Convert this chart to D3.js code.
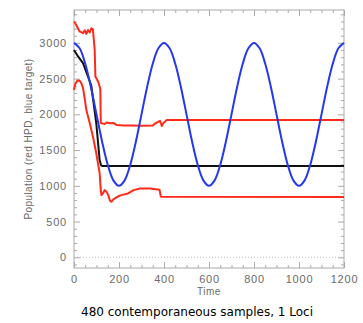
<!DOCTYPE html>
<html>
<head>
<meta charset="utf-8">
<script src="https://cdn.jsdelivr.net/npm/d3@7"></script>
<style>
    body { margin: 0; background: #fff; }
    svg { display: block; }
    .tick text { fill: #6a6a6a; font-family: "Liberation Sans", Arial, sans-serif; font-size: 11px; letter-spacing: 0.8px; }
    .tick line { stroke: #aaa; }
</style>
</head>
<body>
<svg id="chart" width="363" height="323"></svg>
<script>
// ticks
const timeTicks = [0, 200, 400, 600, 800, 1000, 1200];
const popTicks = [0, 500, 1000, 1500, 2000, 2500, 3000];

// blue target (sampled every 25 time units)
const targetTime = [0, 25, 50, 75, 100, 125, 150, 175, 200, 225, 250, 275, 300, 325, 350, 375,
    400, 425, 450, 475, 500, 525, 550, 575, 600, 625, 650, 675, 700, 725, 750, 775,
    800, 825, 850, 875, 900, 925, 950, 975, 1000, 1025, 1050, 1075, 1100, 1125, 1150, 1175, 1200];
const targetPop = [3000, 2924, 2707, 2383, 2000, 1617, 1293, 1076, 1000, 1076, 1293, 1617, 2000, 2383, 2707, 2924,
    3000, 2924, 2707, 2383, 2000, 1617, 1293, 1076, 1000, 1076, 1293, 1617, 2000, 2383, 2707, 2924,
    3000, 2924, 2707, 2383, 2000, 1617, 1293, 1076, 1000, 1076, 1293, 1617, 2000, 2383, 2707, 2924, 3000];

// black estimate
const estTime = [0, 18, 40, 62, 77, 84, 99, 114, 120, 125, 300, 600, 900, 1200];
const estPop = [2900, 2810, 2716, 2530, 2400, 2230, 1874, 1360, 1290, 1278, 1276, 1277, 1278, 1278];

// red HPD upper
const upperTime = [0, 10, 25, 40, 48, 55, 62, 70, 77, 84, 92, 95, 107, 114, 117, 119, 130, 136, 145, 160,
    175, 190, 220, 260, 300, 350, 360, 382, 390, 397, 412, 1200];
const upperPop = [3300, 3250, 3160, 3135, 3175, 3125, 3180, 3145, 3205, 3190, 2900, 2530, 2460, 2390, 2350, 1880,
    1870, 1865, 1885, 1875, 1880, 1850, 1845, 1845, 1840, 1845, 1870, 1910, 1837, 1880, 1920, 1920];

// red HPD lower
const lowerTime = [0, 5, 15, 25, 32, 40, 48, 55, 70, 84, 99, 114, 119, 122, 130, 136, 145, 152, 160, 166,
    175, 181, 195, 210, 240, 265, 293, 338, 380, 386, 1200];
const lowerPop = [2340, 2420, 2475, 2470, 2440, 2370, 2210, 2060, 1875, 1690, 1455, 1175, 940, 870, 900, 940,
    915, 870, 790, 776, 810, 823, 850, 870, 893, 940, 963, 963, 945, 848, 845];

const svg = d3.select('#chart');
const x = d3.scaleLinear().domain([0, 1200]).range([74, 344]);
const y = d3.scaleLinear().domain([-150, 3460]).range([268, 10]);

const xMinor = d3.range(50, 1200, 50).filter(function(d) { return d % 200 !== 0; });
const yMinor = d3.range(-100, 3460, 100).filter(function(d) { return d % 500 !== 0; });

function axis(gen, tr, values, size, labels) {
    const g = svg.append('g').attr('transform', tr)
        .call(gen.tickValues(values).tickSize(size).tickPadding(7)
            .tickFormat(labels ? d3.format('d') : ''));
    g.select('.domain').remove();
    return g;
}

// all four sides carry inward ticks, labels only left and bottom
axis(d3.axisBottom(x), 'translate(0,268)', timeTicks, -6, true);
axis(d3.axisBottom(x), 'translate(0,268)', xMinor, -3, false);
axis(d3.axisTop(x), 'translate(0,10)', timeTicks, -6, false);
axis(d3.axisTop(x), 'translate(0,10)', xMinor, -3, false);
axis(d3.axisLeft(y), 'translate(74,0)', popTicks, -6, true);
axis(d3.axisLeft(y), 'translate(74,0)', yMinor, -3, false);
axis(d3.axisRight(y), 'translate(344,0)', popTicks, -6, false);
axis(d3.axisRight(y), 'translate(344,0)', yMinor, -3, false);

// frame
svg.append('rect')
    .attr('x', x(0)).attr('y', y(3460))
    .attr('width', x(1200) - x(0)).attr('height', y(-150) - y(3460))
    .attr('fill', 'none').attr('stroke', '#aaa');

// dotted zero line
svg.append('line')
    .attr('x1', x(0)).attr('x2', x(1200))
    .attr('y1', y(0)).attr('y2', y(0))
    .attr('stroke', '#bbb').attr('stroke-dasharray', '1,2');

function series(times, pops, color, curve) {
    const line = d3.line()
        .x(function(d) { return x(d[0]); })
        .y(function(d) { return y(d[1]); })
        .curve(curve);
    svg.append('path')
        .datum(d3.zip(times, pops))
        .attr('d', line)
        .attr('fill', 'none')
        .attr('stroke', color)
        .attr('stroke-width', 2)
        .attr('stroke-linejoin', 'round');
}

series(upperTime, upperPop, '#ff2a1a', d3.curveLinear);
series(lowerTime, lowerPop, '#ff2a1a', d3.curveLinear);
series(estTime, estPop, '#111', d3.curveLinear);
series(targetTime, targetPop, '#2438f0', d3.curveCatmullRom);

// labels
svg.append('text')
    .attr('x', 209).attr('y', 295)
    .attr('text-anchor', 'middle')
    .attr('fill', '#6a6a6a')
    .style('font', '10px "Liberation Sans", Arial, sans-serif')
    .style('letter-spacing', '0.5px')
    .text('Time');

svg.append('text')
    .attr('transform', 'translate(32,139) rotate(-90)')
    .attr('text-anchor', 'middle')
    .attr('fill', '#6a6a6a')
    .style('font', '10px "Liberation Sans", Arial, sans-serif')
    .style('letter-spacing', '0.4px')
    .text('Population (red HPD, blue target)');

svg.append('text')
    .attr('x', 197).attr('y', 316)
    .attr('text-anchor', 'middle')
    .attr('fill', '#000')
    .style('font', '12px "DejaVu Sans", sans-serif')
    .text('480 contemporaneous samples, 1 Loci');
</script>
</body>
</html>
